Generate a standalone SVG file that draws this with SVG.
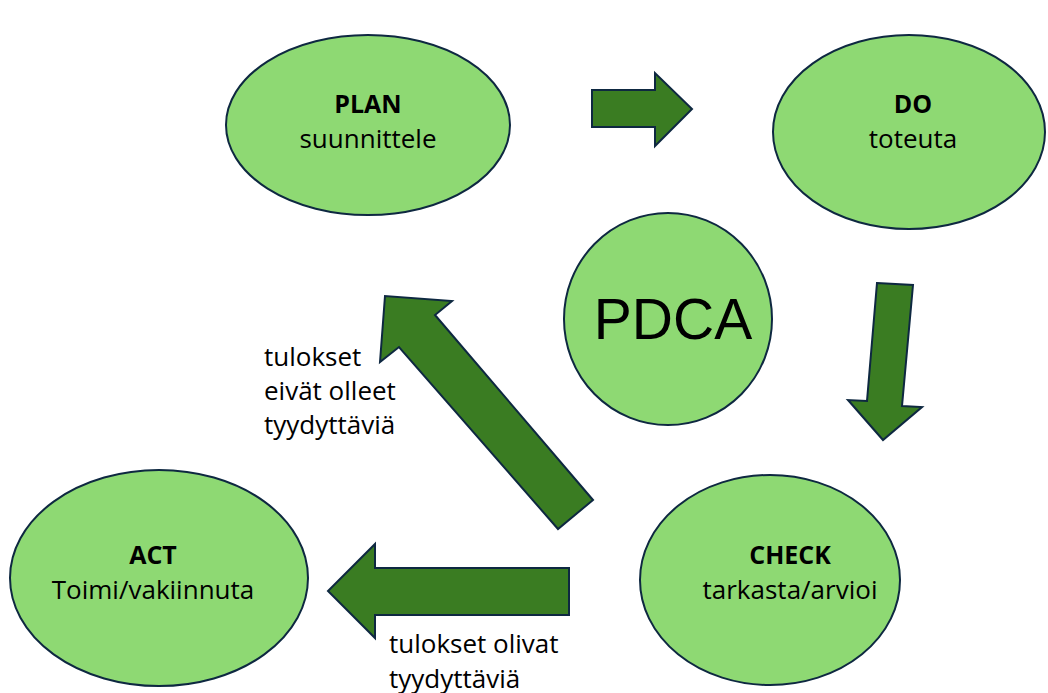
<svg xmlns="http://www.w3.org/2000/svg" width="1048" height="693" viewBox="0 0 1048 693">
<style>
.node{fill:#8ED973;stroke:#0E2841;stroke-width:2}
.arr{fill:#3A7C22;stroke:#0E2841;stroke-width:2;stroke-linejoin:miter}
text{font-family:"Open Sans","Liberation Sans",sans-serif;fill:#000;font-size:26px}
.b{font-weight:bold;font-size:25px}
.c{text-anchor:middle}
.big{font-family:"Liberation Sans",Arial,sans-serif;font-size:57px}
</style>
<rect width="1048" height="693" fill="#fff"/>
<g id="connectors">
<polygon class="arr" points="592,90 655,90 655,73 692,109 655,146 655,127 592,127"/>
<polygon class="arr" points="877,283 913,285 902,406 922,407 883,440 848,400 867,401"/>
<polygon class="arr" points="593,500 558,529 399,347 380,362 385,296 452,301 435,315"/>
<polygon class="arr" points="569,568 375,568 375,544 328,591 375,638 375,615 569,615"/>
</g>
<g id="plan">
<ellipse class="node" cx="368" cy="125" rx="142" ry="90"/>
<text class="c b" x="368" y="113">PLAN</text>
<text class="c" x="368" y="148">suunnittele</text>
</g>
<g id="do">
<ellipse class="node" cx="909" cy="132" rx="136" ry="97"/>
<text class="c b" x="913" y="113">DO</text>
<text class="c" x="913" y="148">toteuta</text>
</g>
<g id="pdca">
<ellipse class="node" cx="668" cy="319" rx="104" ry="106"/>
<text class="c big" x="673" y="339">PDCA</text>
</g>
<g id="check">
<ellipse class="node" cx="770" cy="580" rx="130" ry="105"/>
<text class="c b" x="790" y="564">CHECK</text>
<text class="c" x="790" y="599">tarkasta/arvioi</text>
</g>
<g id="act">
<ellipse class="node" cx="159" cy="578" rx="149" ry="108"/>
<text class="c b" x="153" y="564">ACT</text>
<text class="c" x="153" y="599">Toimi/vakiinnuta</text>
</g>
<g id="label-not-ok">
<text x="264" y="366">tulokset</text>
<text x="264" y="400">eivät olleet</text>
<text x="264" y="434">tyydyttäviä</text>
</g>
<g id="label-ok">
<text x="389" y="653">tulokset olivat</text>
<text x="389" y="688">tyydyttäviä</text>
</g>
</svg>
